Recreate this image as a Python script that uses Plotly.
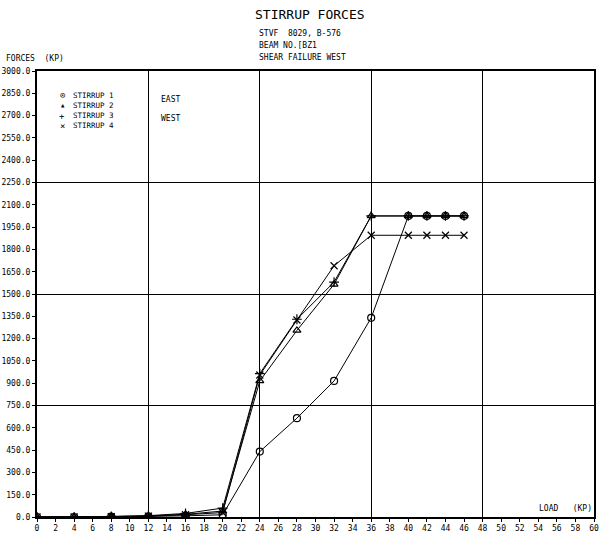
import plotly.graph_objects as go

# Load steps (KP) and stirrup forces (KP)
load = [0, 4, 8, 12, 16, 20, 24, 28, 32, 36, 40, 42, 44, 46]
stirrup_1 = [0, 0, 2, 4, 8, 15, 440, 665, 915, 1340, 2025, 2025, 2025, 2025]
stirrup_2 = [0, 0, 3, 7, 18, 40, 915, 1255, 1565, 2025, 2025, 2025, 2025, 2025]
stirrup_3 = [0, 0, 4, 9, 24, 60, 965, 1330, 1580, 2025, 2025, 2025, 2025, 2025]
stirrup_4 = [0, 0, 3, 6, 15, 30, 955, 1325, 1690, 1895, 1895, 1895, 1895, 1895]

series_names = ["STIRRUP 1", "STIRRUP 2", "STIRRUP 3", "STIRRUP 4"]
series_values = [stirrup_1, stirrup_2, stirrup_3, stirrup_4]
series_symbols = ["circle-open", "triangle-up-open", "cross-thin-open", "x-thin-open"]
legend_glyphs = ["⊙", "▴", "+", "×"]

x_ticks = list(range(0, 61, 2))
y_ticks = [i * 150 for i in range(21)]
y_ticktext = [f"{v:.1f}" for v in y_ticks]

FONT = "DejaVu Sans Mono"

fig = go.Figure()
for name, vals, sym in zip(series_names, series_values, series_symbols):
    fig.add_trace(go.Scatter(
        x=load, y=vals, mode="lines+markers", name=name,
        line=dict(color="black", width=1),
        marker=dict(symbol=sym, size=7, color="black", line=dict(color="black", width=1.2)),
        showlegend=False,
    ))

# Coarse grid drawn on overlaid axes (every 12 KP load, every 750 KP force)
fig.add_trace(go.Scatter(x=[None], y=[None], xaxis="x2", yaxis="y2", showlegend=False))

fig.update_layout(
    width=599, height=534,
    margin=dict(l=37, r=5, t=71, b=17),
    paper_bgcolor="white", plot_bgcolor="white",
    font=dict(family=FONT, color="black", size=8),
    xaxis=dict(
        range=[0, 60], tickvals=x_ticks, ticktext=[str(v) for v in x_ticks],
        showgrid=False, zeroline=False, automargin=False,
        showline=True, linecolor="black", linewidth=1.5, mirror=True,
        ticks="outside", ticklen=3, tickcolor="black",
        tickfont=dict(size=8, family=FONT),
    ),
    yaxis=dict(
        range=[0, 3000], tickvals=y_ticks, ticktext=y_ticktext,
        showgrid=False, zeroline=False, automargin=False,
        showline=True, linecolor="black", linewidth=2, mirror=True,
        ticks="outside", ticklen=3, tickcolor="black",
        tickfont=dict(size=8, family=FONT),
    ),
    xaxis2=dict(
        range=[0, 60], dtick=12, tick0=0, overlaying="x", anchor="y2",
        showgrid=True, gridcolor="black", gridwidth=1.2, automargin=False,
        showticklabels=False, zeroline=False, showline=False, ticks="",
    ),
    yaxis2=dict(
        range=[0, 3000], dtick=750, tick0=0, overlaying="y", anchor="x2",
        showgrid=True, gridcolor="black", gridwidth=1.2, automargin=False,
        showticklabels=False, zeroline=False, showline=False, ticks="",
    ),
)

annotations = [
    dict(text="STIRRUP FORCES", x=0.49, y=1.126, font=dict(size=13), xanchor="center"),
    dict(text="STVF  8029, B-576", x=0.397, y=1.085, font=dict(size=8), xanchor="left"),
    dict(text="BEAM NO.[BZ1", x=0.397, y=1.058, font=dict(size=8), xanchor="left"),
    dict(text="SHEAR FAILURE WEST", x=0.397, y=1.031, font=dict(size=8), xanchor="left"),
    dict(text="FORCES  (KP)", x=-0.057, y=1.029, font=dict(size=8), xanchor="left"),
    dict(text="LOAD   (KP)", x=0.998, y=0.02, font=dict(size=8), xanchor="right"),
    dict(text="EAST", x=0.22, y=0.935, font=dict(size=8), xanchor="left"),
    dict(text="WEST", x=0.22, y=0.893, font=dict(size=8), xanchor="left"),
]
legend_rows = [0.946, 0.923, 0.900, 0.877]
for glyph, name, ry in zip(legend_glyphs, series_names, legend_rows):
    annotations.append(dict(text=glyph, x=0.045, y=ry, font=dict(size=9), xanchor="center"))
    annotations.append(dict(text=name, x=0.062, y=ry, font=dict(size=7.5), xanchor="left"))

for a in annotations:
    a.update(xref="paper", yref="paper", yanchor="middle", showarrow=False, borderpad=0)
fig.update_layout(annotations=annotations)

fig.write_html("out.html")
